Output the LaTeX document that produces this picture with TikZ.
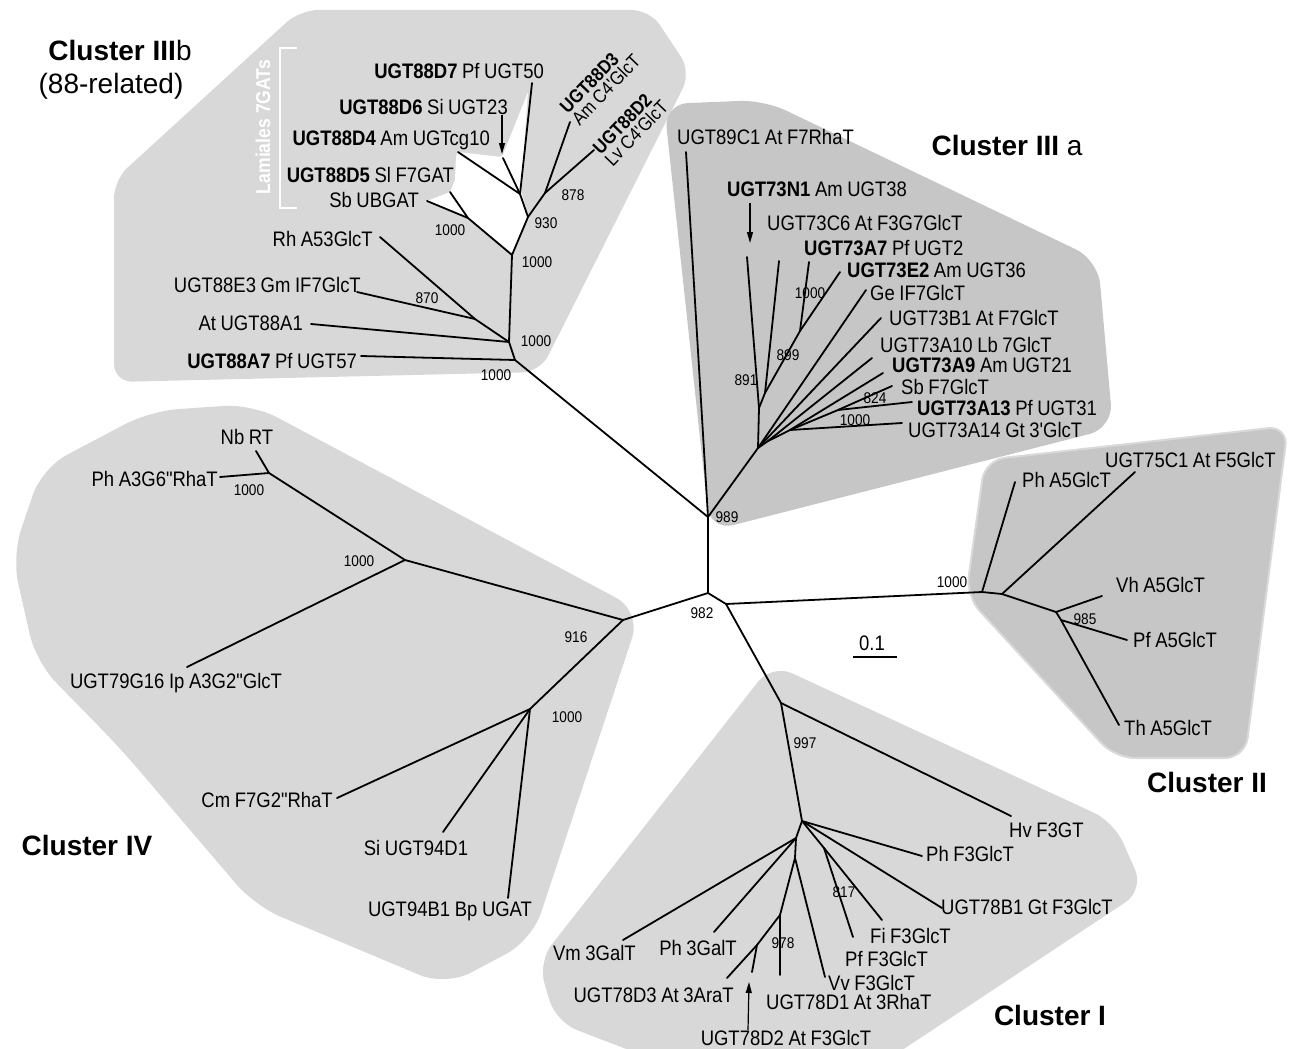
\documentclass[tikz,border=0pt]{standalone}
\usepackage{fontspec}
\setmainfont{Liberation Sans}
\newfontfamily\narrowf[FakeStretch=0.88]{Liberation Sans}
\usetikzlibrary{arrows.meta}
\definecolor{gl}{HTML}{D8D8D8}
\definecolor{gd}{HTML}{C6C6C6}
\newcommand\lfnt{\narrowf\fontsize{21}{22}\selectfont\spaceskip=0.22em\relax}
\newcommand\rfnt{\narrowf\fontsize{19}{16.5}\selectfont\spaceskip=0.22em\relax}
\newcommand\bfnt{\narrowf\fontsize{15.5}{16}\selectfont}
\newcommand\cfnt{\fontsize{28}{30}\selectfont\bfseries}
\begin{document}
\begin{tikzpicture}[x=1pt,y=-1pt,
  br/.style={line width=1.8pt,line cap=round,line join=round},
  labw/.style={inner sep=0pt,anchor=west,text height=15pt,text depth=0pt,font=\lfnt},
  labe/.style={inner sep=0pt,anchor=east,text height=15pt,text depth=0pt,font=\lfnt},
  labc/.style={inner sep=0pt,anchor=center,text height=15pt,text depth=0pt,font=\lfnt},
  bs/.style={inner sep=0pt,text height=11pt,text depth=0pt,font=\bfnt},
  ttl/.style={inner sep=0pt,text height=20pt,text depth=0pt,font=\cfnt},
  arr/.style={line width=1.2pt,-{Triangle[length=11pt,width=6pt]}},
]
\useasboundingbox (0,0) rectangle (1290,1049);
% ---------- cluster backgrounds ----------
\fill[gl, rounded corners=18pt] (300,10) -- (650,10) -- (691,72) -- (540,372) -- (114,382) -- (114,180) -- cycle;
\fill[white, rounded corners=2pt] (458,152) -- (502,157) -- (528,92) -- (521,190) -- (528,217) -- (512,253) -- (468,218) -- (427,201) -- (450,192) -- (455,180) -- (456,155) -- cycle;
\fill[gd, rounded corners=24pt] (664,104) -- (764,100) -- (1098,260) -- (1113,428) -- (710,531) -- cycle;
\filldraw[gd, draw=gray!30, line width=2pt, rounded corners=20pt] (985,460) -- (1288,426) -- (1245,758) -- (1115,758) -- (966,596) -- cycle;
\fill[gl, rounded corners=22pt] (772,664) -- (1114,822) -- (1144,890) -- (884,1062) -- (660,1062) -- (556,1022) -- (538,962) -- cycle;
\fill[gl, rounded corners=28pt] (252,404) -- (641,611) -- (532,940) -- (446,986) -- (255,906) -- (120,748) -- (36,662) -- (12,556) -- (42,468) -- (150,411) -- cycle;
% ---------- coordinates ----------
\coordinate (A) at (708,593);
\coordinate (B) at (726,604);
\coordinate (n989) at (708,517);
\coordinate (nIV) at (623,620);
\coordinate (nII) at (982,592);
\coordinate (nIt) at (781,703);
% IIIb
\coordinate (rb) at (515,360);
\coordinate (b1) at (509,342);
\coordinate (b870) at (475,319);
\coordinate (b2) at (512,255);
\coordinate (bd) at (468,218);
\coordinate (b930) at (528,217);
\coordinate (bnd) at (520,194);
\coordinate (b878) at (545,193);
\coordinate (t88A7) at (361,356);
\coordinate (t88A1) at (311,324);
\coordinate (tRh) at (380,237);
\coordinate (t88E3) at (357,292);
\coordinate (tSb) at (427,201);
\coordinate (t88D5) at (450,192);
\coordinate (t88D4) at (458,152);
\coordinate (t88D6) at (503,158);
\coordinate (t88D7) at (532,83);
\coordinate (t88D3) at (570,122);
\coordinate (t88D2) at (594,150);
% IIIa
\coordinate (a0) at (758,448);
\coordinate (a891) at (759,408);
\coordinate (a899) at (765,393);
\coordinate (a1000) at (800,331);
\coordinate (aA) at (768,441);
\coordinate (aB) at (790,430);
\coordinate (a824) at (838,410);
\coordinate (t89C1) at (686,152);
\coordinate (t73N1) at (747,257);
\coordinate (t73C6) at (779,261);
\coordinate (t73A7) at (809,262);
\coordinate (t73E2) at (840,272);
\coordinate (tGe) at (866,290);
\coordinate (t73B1) at (881,318);
\coordinate (t73A10) at (872,358);
\coordinate (t73A9) at (883,373);
\coordinate (tSbF) at (892,386);
\coordinate (t73A13) at (912,402);
\coordinate (t73A14) at (902,423);
% II
\coordinate (c2) at (1002,594);
\coordinate (c3) at (1056,612);
\coordinate (c985) at (1061,620);
\coordinate (tPhA5) at (1015,482);
\coordinate (t75C1) at (1135,472);
\coordinate (tVh) at (1102,596);
\coordinate (tPfA5) at (1127,640);
\coordinate (tTh) at (1119,725);
% I
\coordinate (iL) at (802,821);
\coordinate (iV) at (796,838);
\coordinate (iW) at (795,858);
\coordinate (i978) at (780,915);
\coordinate (iD) at (757,945);
\coordinate (i817) at (824,848);
\coordinate (tHv) at (1011,816);
\coordinate (tPhF3) at (922,856);
\coordinate (t78B1) at (942,908);
\coordinate (tFi) at (882,920);
\coordinate (tPfF3) at (853,937);
\coordinate (tVv) at (825,977);
\coordinate (t78D1) at (780,975);
\coordinate (tVm) at (623,940);
\coordinate (tPh3Gal) at (714,932);
\coordinate (t78D3) at (727,978);
\coordinate (t78D2) at (752,972);
% IV
\coordinate (v1000x) at (405,560);
\coordinate (vNb) at (269,473);
\coordinate (v1000y) at (530,709);
\coordinate (tNb) at (256,451);
\coordinate (tPhA3) at (220,477);
\coordinate (tIp) at (187,667);
\coordinate (tCm) at (337,798);
\coordinate (tSi) at (443,832);
\coordinate (t94B1) at (508,898);
% ---------- branches ----------
\draw[br] (n989)--(A)--(nIV);
\draw[br] (A)--(B)--(nII);
\draw[br] (B)--(nIt);
% IIIb
\draw[br] (n989)--(rb)--(t88A7);
\draw[br] (rb)--(b1)--(t88A1);
\draw[br] (b1)--(b870)--(tRh);
\draw[br] (b870)--(t88E3);
\draw[br] (b1)--(b2)--(bd)--(tSb);
\draw[br] (bd)--(t88D5);
\draw[br] (b2)--(b930)--(bnd)--(t88D4);
\draw[br] (bnd)--(t88D6);
\draw[br] (bnd)--(t88D7);
\draw[br] (b930)--(b878)--(t88D3);
\draw[br] (b878)--(t88D2);
% IIIa
\draw[br] (n989)--(t89C1);
\draw[br] (n989)--(a0);
\draw[br] (a0)--(a891)--(t73N1);
\draw[br] (a891)--(a899)--(t73C6);
\draw[br] (a899)--(a1000)--(t73A7);
\draw[br] (a1000)--(t73E2);
\draw[br] (a0)--(tGe);
\draw[br] (a0)--(t73B1);
\draw[br] (a0)--(aA)--(t73A10);
\draw[br] (aA)--(aB)--(t73A9);
\draw[br] (aB)--(a824)--(tSbF);
\draw[br] (a824)--(t73A13);
\draw[br] (aB)--(t73A14);
% II
\draw[br] (nII)--(tPhA5);
\draw[br] (nII)--(c2)--(t75C1);
\draw[br] (c2)--(c3)--(tVh);
\draw[br] (c3)--(c985)--(tPfA5);
\draw[br] (c985)--(tTh);
% I
\draw[br] (nIt)--(tHv);
\draw[br] (nIt)--(iL)--(tPhF3);
\draw[br] (iL)--(t78B1);
\draw[br] (iL)--(i817)--(tFi);
\draw[br] (i817)--(tPfF3);
\draw[br] (iL)--(iV)--(tVm);
\draw[br] (iV)--(tPh3Gal);
\draw[br] (iV)--(iW)--(tVv);
\draw[br] (iW)--(i978)--(t78D1);
\draw[br] (i978)--(iD)--(t78D3);
\draw[br] (iD)--(t78D2);
% IV
\draw[br] (nIV)--(v1000x)--(tIp);
\draw[br] (v1000x)--(vNb)--(tNb);
\draw[br] (vNb)--(tPhA3);
\draw[br] (nIV)--(v1000y)--(tCm);
\draw[br] (v1000y)--(tSi);
\draw[br] (v1000y)--(t94B1);
% ---------- arrows ----------
\coordinate (arD6s) at (502,115); \coordinate (arD6e) at (502,154);
\coordinate (arN1s) at (750,203); \coordinate (arN1e) at (750,243);
\coordinate (arD2s) at (748,1030); \coordinate (arD2e) at (749,982);
\draw[arr] (arD6s)--(arD6e);
\draw[arr] (arN1s)--(arN1e);
\draw[arr] (arD2s)--(arD2e);
% ---------- Lamiales bracket ----------
\coordinate (lb1) at (297,48); \coordinate (lb2) at (280,48);
\coordinate (lb3) at (280,208); \coordinate (lb4) at (297,208);
\draw[white, line width=2.5pt] (lb1)--(lb2)--(lb3)--(lb4);
\node[white, rotate=90, inner sep=0pt, font=\narrowf\fontsize{20}{20}\selectfont\bfseries] (lam) at (263,127) {Lamiales 7GATs};
% ---------- titles ----------
\node[ttl] (tIIIb) at (120,50) {Cluster III{\mdseries b}};
\node[inner sep=0pt, font=\fontsize{28}{30}\selectfont] (rel) at (111,86) {(88-related)};
\node[ttl] (tIIIa) at (1007,145) {Cluster III {\mdseries a}};
\node[ttl] (tII) at (1207,782) {Cluster II};
\node[ttl] (tI) at (1050,1015) {Cluster I};
\node[ttl] (tIV) at (87,845) {Cluster IV};
% ---------- labels IIIb ----------
\node[labe] (L88D7) at (544,71) {\textbf{UGT88D7} Pf UGT50};
\node[labe] (L88D6) at (508,107) {\textbf{UGT88D6} Si UGT23};
\node[labe] (L88D4) at (490,138) {\textbf{UGT88D4} Am UGTcg10};
\node[labe] (L88D5) at (454,175) {\textbf{UGT88D5} Sl F7GAT};
\node[labe] (LSb) at (419,200) {Sb UBGAT};
\node[labe] (LRh) at (373,239) {Rh A53GlcT};
\node[labe] (L88E3) at (361,285) {UGT88E3 Gm IF7GlcT};
\node[labe] (L88A1) at (303,323) {At UGT88A1};
\node[labe] (L88A7) at (357,361) {\textbf{UGT88A7} Pf UGT57};
\node[inner sep=0pt, rotate=46, anchor=west, align=left, font=\rfnt] (L88D3) at (569,116) {\textbf{UGT88D3}\\Am C4'GlcT};
\node[inner sep=0pt, rotate=46, anchor=west, align=left, font=\rfnt] (L88D2) at (602,157) {\textbf{UGT88D2}\\Lv C4'GlcT};
% ---------- labels IIIa ----------
\node[labw] (L89C1) at (677,137) {UGT89C1 At F7RhaT};
\node[labw] (L73N1) at (727,189) {\textbf{UGT73N1} Am UGT38};
\node[labw] (L73C6) at (767,223) {UGT73C6 At F3G7GlcT};
\node[labw] (L73A7) at (804,248) {\textbf{UGT73A7} Pf UGT2};
\node[labw] (L73E2) at (847,270) {\textbf{UGT73E2} Am UGT36};
\node[labw] (LGe) at (870,293) {Ge IF7GlcT};
\node[labw] (L73B1) at (889,318) {UGT73B1 At F7GlcT};
\node[labw] (L73A10) at (880,345) {UGT73A10 Lb 7GlcT};
\node[labw] (L73A9) at (892,365) {\textbf{UGT73A9} Am UGT21};
\node[labw] (LSbF) at (901,387) {Sb F7GlcT};
\node[labw] (L73A13) at (917,408) {\textbf{UGT73A13} Pf UGT31};
\node[labw] (L73A14) at (908,430) {UGT73A14 Gt 3'GlcT};
% ---------- labels II ----------
\node[labw] (L75C1) at (1105,460) {UGT75C1 At F5GlcT};
\node[labw] (LPhA5) at (1022,480) {Ph A5GlcT};
\node[labw] (LVh) at (1116,585) {Vh A5GlcT};
\node[labw] (LPfA5) at (1133,640) {Pf A5GlcT};
\node[labw] (LTh) at (1124,728) {Th A5GlcT};
% ---------- labels I ----------
\node[labw] (LHv) at (1009,830) {Hv F3GT};
\node[labw] (LPhF3) at (926,854) {Ph F3GlcT};
\node[labw] (L78B1) at (941,907) {UGT78B1 Gt F3GlcT};
\node[labw] (LFi) at (870,936) {Fi F3GlcT};
\node[labw] (LPfF3) at (845,959) {Pf F3GlcT};
\node[labw] (LVv) at (828,983) {Vv F3GlcT};
\node[labw] (L78D1) at (766,1002) {UGT78D1 At 3RhaT};
\node[labe] (LVm) at (636,953) {Vm 3GalT};
\node[labe] (LPh3) at (737,948) {Ph 3GalT};
\node[labe] (L78D3) at (734,995) {UGT78D3 At 3AraT};
\node[labc] (L78D2) at (786,1038) {UGT78D2 At F3GlcT};
% ---------- labels IV ----------
\node[labc] (LNb) at (247,437) {Nb RT};
\node[labe] (LPhA3) at (218,479) {Ph A3G6"RhaT};
\node[labc] (LIp) at (176,681) {UGT79G16 Ip A3G2"GlcT};
\node[labe] (LCm) at (333,800) {Cm F7G2"RhaT};
\node[labc] (LSi) at (416,848) {Si UGT94D1};
\node[labc] (L94B1) at (450,909) {UGT94B1 Bp UGAT};
% ---------- bootstrap values ----------
\node[bs] (s1) at (496,375) {1000};
\node[bs] (s2) at (536,341) {1000};
\node[bs] (s3) at (427,298) {870};
\node[bs] (s4) at (537,262) {1000};
\node[bs] (s5) at (450,230) {1000};
\node[bs] (s6) at (546,223) {930};
\node[bs] (s7) at (573,195) {878};
\node[bs] (s8) at (810,293) {1000};
\node[bs] (s9) at (788,355) {899};
\node[bs] (s10) at (746,380) {891};
\node[bs] (s11) at (875,398) {824};
\node[bs] (s12) at (855,420) {1000};
\node[bs] (s13) at (727,517) {989};
\node[bs] (s14) at (702,613) {982};
\node[bs] (s15) at (952,582) {1000};
\node[bs] (s16) at (1085,619) {985};
\node[bs] (s17) at (805,743) {997};
\node[bs] (s18) at (844,892) {817};
\node[bs] (s19) at (783,943) {978};
\node[bs] (s20) at (249,490) {1000};
\node[bs] (s21) at (359,561) {1000};
\node[bs] (s22) at (576,637) {916};
\node[bs] (s23) at (567,717) {1000};
% ---------- scale bar ----------
\coordinate (sb1) at (853,657); \coordinate (sb2) at (897,657);
\draw[line width=2pt] (sb1)--(sb2);
\node[labc] (Lsc) at (872,643) {0.1};
\end{tikzpicture}
\end{document}
